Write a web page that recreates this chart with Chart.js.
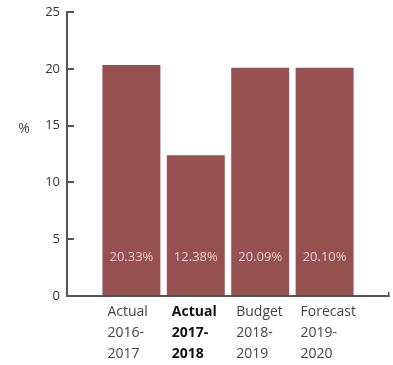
<!DOCTYPE html>
<html>
<head>
<meta charset="utf-8">
<script src="https://cdn.jsdelivr.net/npm/chart.js@4/dist/chart.umd.min.js"></script>
<style>
  html, body { margin: 0; padding: 0; background: #ffffff; }
  #wrap { width: 393px; height: 365px; }
</style>
</head>
<body>
<div id="wrap"><canvas id="chart" width="393" height="365"></canvas></div>
<script>
// Return on equity by period
const categories = [
  ['Actual', '2016-', '2017'],
  ['Actual', '2017-', '2018'],
  ['Budget', '2018-', '2019'],
  ['Forecast', '2019-', '2020']
];
const values = [20.33, 12.38, 20.09, 20.10];
const currentIndex = 1;          // the period shown in bold
const yMin = 0, yMax = 25, yStep = 5;
const unitLabel = '%';

const FONT = "'Open Sans', sans-serif";
const BAR = '#96504f';
const AXIS = '#555555';

// empty slots at both ends give the axis its margin either side of the bars
const labels = [''].concat(categories, ['']);
const data = [null].concat(values, [null]);

// value text inside each bar, plus the unit label beside the value axis
const barText = {
  id: 'barText',
  afterDatasetsDraw(chart) {
    const ctx = chart.ctx;
    const meta = chart.getDatasetMeta(0);
    const ds = chart.data.datasets[0].data;
    ctx.save();
    ctx.font = "13px " + FONT;
    ctx.fillStyle = 'rgba(255,255,255,0.72)';
    ctx.textAlign = 'center';
    ctx.textBaseline = 'middle';
    meta.data.forEach((bar, i) => {
      const v = ds[i];
      if (v == null) return;
      ctx.fillText(v.toFixed(2) + '%', bar.x, bar.base - 38);
    });
    const y = chart.scales.y;
    ctx.font = "14px " + FONT;
    ctx.fillStyle = '#444444';
    ctx.fillText(unitLabel, 24, y.getPixelForValue(15) + 3);
    ctx.restore();
  }
};

new Chart(document.getElementById('chart'), {
  type: 'bar',
  data: {
    labels: labels,
    datasets: [{
      data: data,
      backgroundColor: BAR,
      borderWidth: 0,
      barPercentage: 0.9,
      categoryPercentage: 1.0
    }]
  },
  plugins: [barText],
  options: {
    responsive: false,
    devicePixelRatio: 1,
    animation: false,
    layout: { padding: { top: 12, right: 4, bottom: 0, left: 0 } },
    plugins: {
      legend: { display: false },
      tooltip: { enabled: false }
    },
    scales: {
      x: {
        offset: false,
        grid: {
          offset: false,
          drawOnChartArea: false,
          drawTicks: true,
          tickLength: -4,
          color: AXIS,
          lineWidth: 1.5
        },
        border: { color: AXIS, width: 2 },
        ticks: {
          autoSkip: false,
          maxRotation: 0,
          minRotation: 0,
          align: 'start',
          labelOffset: -24,
          padding: 10,
          color: (c) => c.index === currentIndex + 1 ? '#111111' : '#444444',
          font: (c) => ({
            family: FONT,
            size: 14,
            lineHeight: 1.5,
            weight: c.index === currentIndex + 1 ? 'bold' : 'normal'
          })
        },
        afterFit(scale) {
          scale.height = 69;
          scale.paddingLeft = 0;
          scale.paddingRight = 0;
        }
      },
      y: {
        min: yMin,
        max: yMax,
        grid: {
          drawOnChartArea: false,
          drawTicks: true,
          tickLength: -7,
          color: AXIS,
          lineWidth: 2
        },
        border: { color: AXIS, width: 2 },
        ticks: {
          stepSize: yStep,
          padding: 14,
          color: '#333333',
          font: { family: FONT, size: 13 }
        },
        afterFit(scale) {
          scale.width = 67;
          scale.paddingTop = 8;
          scale.paddingBottom = 8;
        }
      }
    }
  }
});
</script>
</body>
</html>
